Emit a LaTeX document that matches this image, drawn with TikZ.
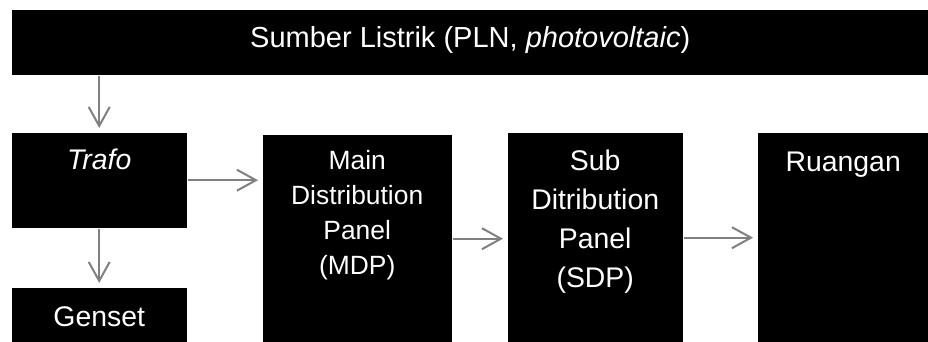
\documentclass[tikz,border=0pt]{standalone}
\usepackage{fontspec}
\setmainfont{Liberation Sans}
\usepackage{tikz}
\usetikzlibrary{arrows.meta, positioning}
\definecolor{arrowgray}{RGB}{128,128,128}
\tikzstyle{blkbox} = [rectangle, 
anchor=north west, 
inner sep=0pt, 
draw=black, 
fill=black]
\tikzstyle{blktext} = [anchor=base, 
text=white, 
align=center, 
inner sep=0pt, 
font=\fontsize{28.4}{39}\selectfont]
\tikzstyle{arrow} = [line width=2pt, draw=arrowgray, shorten <=2pt, shorten >=5pt, -{Straight Barb[length=19pt,width=21pt]}]

\begin{document}
\begin{tikzpicture}[x=1pt, y=-1pt]
    \useasboundingbox (0,0) rectangle (928,342);

    % Boxes
    \node (src) [blkbox, minimum width=916pt, minimum height=64pt] at (12,10) {};
    \node (trafo) [blkbox, minimum width=174pt, minimum height=94pt] at (12,133) {};
    \node (genset) [blkbox, minimum width=174pt, minimum height=54pt] at (12,288) {};
    \node (mdp) [blkbox, minimum width=188pt, minimum height=207pt] at (263,135) {};
    \node (sdp) [blkbox, minimum width=174pt, minimum height=209pt] at (508,133) {};
    \node (room) [blkbox, minimum width=170pt, minimum height=209pt] at (758,133) {};

    % Labels (base = last line)
    \node (srctxt) [blktext, font=\fontsize{29}{39}\selectfont] at ([yshift=-38pt]src.north) {Sumber Listrik (PLN, \textit{photovoltaic})};
    \node (trafotxt) [blktext] at ([yshift=-36pt]trafo.north) {\textit{Trafo}};
    \node (gensettxt) [blktext] at ([yshift=-38pt]genset.north) {Genset};
    \node (mdptxt) [blktext, font=\fontsize{26.4}{35}\selectfont] at ([yshift=-139pt]mdp.north) {Main\\Distribution\\Panel\\(MDP)};
    \node (sdptxt) [blktext] at ([yshift=-154pt]sdp.north) {Sub\\Ditribution\\Panel\\(SDP)};
    \node (roomtxt) [blktext] at ([yshift=-38pt]room.north) {Ruangan};

    % Flow
    \draw [arrow] (src.south -| trafo.north) -- (trafo.north);
    \draw [arrow] (trafo.south) -- (genset.north);
    \draw [arrow] (trafo.east) -- (trafo.east -| mdp.west);
    \draw [arrow] (mdp.east) -- (mdp.east -| sdp.west);
    \draw [arrow] (sdp.east) -- (sdp.east -| room.west);
\end{tikzpicture}
\end{document}
